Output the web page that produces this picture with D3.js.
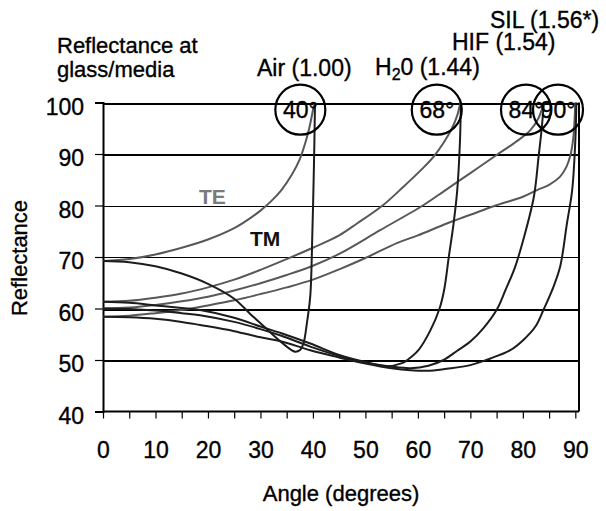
<!DOCTYPE html>
<html>
<head>
<meta charset="utf-8">
<script src="https://cdn.jsdelivr.net/npm/d3@7"></script>
<style>
  body { margin: 0; background: #fff; }
  text { font-family: Arial, "Liberation Sans", sans-serif; }
  .heavy { stroke: #000; stroke-width: 0.35px; }
</style>
</head>
<body>
<svg id="chart" width="606" height="511"></svg>
<script>
// angle (degrees) / reflectance pairs
var airTE = [[0,69.2],[5,69.6],[10,70.5],[15,71.8],[20,73.4],[25,75.6],[28,77.5],[30,79.0],[32,80.8],[34,83.0],[36,86.0],[37.5,89.0],[38.5,92],[39.3,95],[40,98.5],[40.3,100]];
var airTM = [[0,69.2],[5,69.0],[10,68.2],[15,66.8],[20,64.8],[25,61.9],[28,59.0],[31,56.2],[33,54.3],[35,52.6],[36.6,51.6],[37.6,52.0],[38.2,53.2],[38.9,57.5],[39.5,62.5],[39.9,75],[40.2,88],[40.4,100]];
var h2oTE = [[0,61.3],[5,61.5],[10,62.1],[15,62.9],[20,64.1],[25,65.6],[30,67.5],[35,69.6],[40,71.8],[45,74.2],[48.4,76.5],[53.4,80.1],[57.2,83.6],[61.2,87.5],[63,89.5],[64.9,92.2],[66.5,95],[67.5,97.5],[68.1,100]];
var h2oTM = [[0,61.3],[5,61.1],[10,60.6],[15,60.1],[18.5,59.7],[25,58.2],[30,56.5],[34,55.2],[39.5,53.2],[45,51],[50,49.6],[54,48.8],[57,49.4],[58,50],[60.1,51.9],[62.4,55.8],[64.1,59.9],[65,63.6],[65.9,70.1],[66.8,76.5],[67.5,83],[68,92],[68.2,100]];
var hifTE = [[0,60.0],[5,60.2],[10,60.7],[15,61.4],[20,62.3],[25,63.5],[30,64.9],[35,66.5],[40,68.3],[45,70.6],[52.8,75.2],[61.1,80.1],[65,82.8],[70,86.3],[75,89.8],[79,92.6],[81.4,94.6],[83,97],[84,100]];
var hifTM = [[0,60.0],[5,59.9],[10,59.6],[15,59.1],[18.5,58.7],[25,57.4],[30,56],[34,54.7],[39.5,52.6],[45,50.8],[50,49.5],[55,48.7],[58.6,48.4],[62,48.9],[64.9,50],[67.5,51.8],[70,53.6],[72.5,56.2],[75.1,59.9],[76.7,63.6],[78.5,68],[80.1,73.4],[82.1,81.7],[83,89.5],[83.6,95],[84,100]];
var silTE = [[0,58.4],[5,58.6],[10,59.1],[15,59.7],[20,60.6],[25,61.6],[30,62.8],[35,64.1],[40,65.6],[45,67.6],[50,69.8],[56,72.7],[60,74.2],[65.5,76.5],[70,78.2],[75.1,80.1],[80,81.7],[82.7,83],[85,84],[87.1,85.6],[88.3,87.5],[89,89.5],[89.6,93],[90,100]];
var silTM = [[0,58.4],[5,58.3],[10,58],[15,57.4],[18.5,56.8],[25,55.6],[30,54.4],[34,53.6],[39.5,51.9],[45,50.5],[50,49.3],[55,48.4],[61.7,47.9],[65.5,48.3],[70,49],[73.8,50.3],[77.6,51.9],[80.1,53.9],[82.4,56.5],[84,59.9],[85.6,63.6],[87.1,68.1],[88.4,76.5],[89.4,83],[90,92.6],[90.2,100]];

var yTicks = [40, 50, 60, 70, 80, 90, 100];
var xTicks = [0, 10, 20, 30, 40, 50, 60, 70, 80, 90];
var xMinorTicks = d3.range(0, 91, 5);

// critical angle circles: label, angle where circle sits
var circleLabels = ["40°", "68°", "84°", "90°"];
var circleAngles = [37.6, 63.6, 80.6, 86.7];

var svg = d3.select("#chart");
var x = d3.scaleLinear().domain([0, 90.7]).range([103, 579]);
var y = d3.scaleLinear().domain([40, 100]).range([411.5, 102.5]);

// gridlines
svg.append("g").selectAll("line")
  .data([50, 60, 70, 80, 90, 100])
  .enter().append("line")
    .attr("x1", x(0)).attr("x2", x(90.7))
    .attr("y1", function(d) { return Math.round(y(d)) + 0.5; })
    .attr("y2", function(d) { return Math.round(y(d)) + 0.5; })
    .attr("stroke", "#000")
    .attr("shape-rendering", "crispEdges")
    .attr("stroke-width", function(d) { return (d == 70 || d == 80) ? 1 : 2; });

// right border
svg.append("line")
  .attr("x1", x(90.7)).attr("x2", x(90.7))
  .attr("y1", y(100)).attr("y2", y(40))
  .attr("stroke", "#000").attr("stroke-width", 2);

// y axis
var yAxis = svg.append("g")
  .attr("transform", "translate(" + x(0) + ",0)")
  .call(d3.axisLeft(y).tickValues(yTicks).tickSize(8).tickPadding(11));
yAxis.select(".domain").attr("stroke-width", 2);
yAxis.selectAll(".tick line").attr("stroke-width", 1.2);
yAxis.selectAll(".tick text")
  .attr("class", "heavy")
  .attr("font-size", 23).attr("dy", "0.5em")
  .attr("font-family", "Arial, 'Liberation Sans', sans-serif");

// x axis (minor ticks every 5, labels every 10)
var xAxis = svg.append("g")
  .attr("transform", "translate(0," + y(40) + ")")
  .call(d3.axisBottom(x).tickValues(xMinorTicks).tickSize(7).tickSizeOuter(0)
    .tickFormat(function(d) { return xTicks.indexOf(d) >= 0 ? d : ""; }).tickPadding(23));
xAxis.select(".domain").attr("stroke-width", 2).attr("d", "M" + x(0) + ",0H" + x(90.7));
xAxis.selectAll(".tick line").attr("stroke-width", 1.2);
xAxis.selectAll(".tick text")
  .attr("class", "heavy")
  .attr("font-size", 23)
  .attr("font-family", "Arial, 'Liberation Sans', sans-serif");

// curves
var line = d3.line()
  .x(function(d) { return x(d[0]); })
  .y(function(d) { return y(d[1]); })
  .curve(d3.curveCatmullRom.alpha(0.5));

var teSeries = [airTE, h2oTE, hifTE, silTE];
var tmSeries = [airTM, h2oTM, hifTM, silTM];

svg.append("g").selectAll("path")
  .data(teSeries)
  .enter().append("path")
    .attr("d", line)
    .attr("fill", "none")
    .attr("stroke", "#585858")
    .attr("stroke-width", 2);

svg.append("g").selectAll("path")
  .data(tmSeries)
  .enter().append("path")
    .attr("d", line)
    .attr("fill", "none")
    .attr("stroke", "#1c1c1c")
    .attr("stroke-width", 2);

// circles
var circ = svg.append("g").selectAll("g")
  .data(circleLabels)
  .enter().append("g")
    .attr("transform", function(d, i) { return "translate(" + x(circleAngles[i]) + "," + y(98.6) + ")"; });
circ.append("circle")
  .attr("r", 25)
  .attr("fill", "none")
  .attr("stroke", "#000")
  .attr("stroke-width", 2.2);
circ.append("text")
  .attr("class", "heavy")
  .attr("text-anchor", "middle")
  .attr("y", 8)
  .attr("font-size", 23)
  .text(function(d) { return d; });

// TE / TM labels
svg.append("text").attr("x", 199).attr("y", 204)
  .attr("font-size", 21).attr("font-weight", "bold").attr("fill", "#7a7a7a").text("TE");
svg.append("text").attr("x", 250).attr("y", 246)
  .attr("font-size", 21).attr("font-weight", "bold").attr("fill", "#111").text("TM");

// top labels
var labels = svg.append("g").attr("font-size", 23);
labels.append("text").attr("class", "heavy").attr("x", 57).attr("y", 53).attr("font-size", 22).text("Reflectance at");
labels.append("text").attr("class", "heavy").attr("x", 57).attr("y", 77).attr("font-size", 22).text("glass/media");
labels.append("text").attr("class", "heavy").attr("x", 257).attr("y", 76).text("Air (1.00)");
var h2o = labels.append("text").attr("class", "heavy").attr("x", 375).attr("y", 75);
h2o.append("tspan").text("H");
h2o.append("tspan").attr("font-size", 16).attr("dy", 5).text("2");
h2o.append("tspan").attr("dy", -5).text("0 (1.44)");
labels.append("text").attr("class", "heavy").attr("x", 452).attr("y", 50).text("HIF (1.54)");
labels.append("text").attr("class", "heavy").attr("x", 490).attr("y", 28).text("SIL (1.56*)");

// axis titles
svg.append("text").attr("class", "heavy").attr("x", 341).attr("y", 501).attr("text-anchor", "middle")
  .attr("font-size", 22).text("Angle (degrees)");
svg.append("text").attr("class", "heavy").attr("transform", "translate(27,258) rotate(-90)")
  .attr("text-anchor", "middle").attr("font-size", 22).text("Reflectance");
</script>
</body>
</html>
